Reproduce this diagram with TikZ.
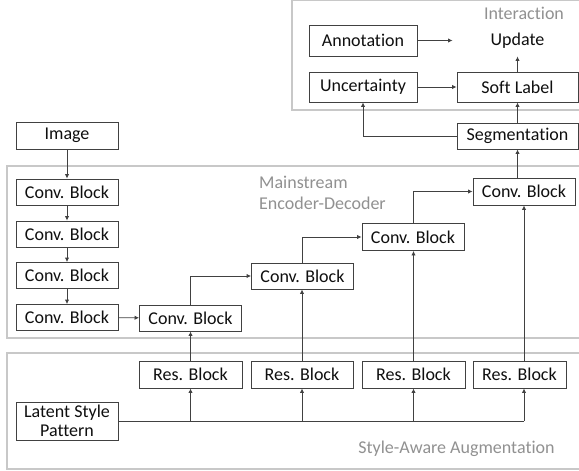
\documentclass[tikz,border=0pt]{standalone}
\usepackage{fontspec}
\setmainfont{Carlito}[Ligatures={NoCommon}]
\usetikzlibrary{arrows.meta,calc}
\definecolor{edgec}{RGB}{65,65,65}
\definecolor{grpc}{RGB}{200,200,200}
\definecolor{grptext}{RGB}{145,145,145}
\definecolor{txtc}{RGB}{15,15,15}
\begin{document}
\begin{tikzpicture}[x=1pt,y=-1pt,
  blk/.style={draw=edgec,line width=0.9pt,fill=white,inner sep=0pt,minimum height=26pt,minimum width=102pt,
    font=\fontsize{18}{21}\selectfont,text=txtc},
  grp/.style={draw=grpc,line width=1.1pt},
  grplabel/.style={font=\fontsize{18}{21}\selectfont,text=grptext,inner sep=0pt},
  conn/.style={draw=edgec,line width=0.9pt},
  arr/.style={conn,-{Latex[length=4.5pt,width=4.5pt]}}]
\useasboundingbox (0,0) rectangle (579,471);
\fill[white] (0,0) rectangle (579,471);
% groups
\draw[grp] (585,0.8) -- (292,0.8) -- (292,110) -- (585,110);
\draw[grp] (585,166) -- (7,166) -- (7,338) -- (585,338);
\draw[grp] (585,353) -- (7,353) -- (7,469) -- (585,469);
\node[grplabel] (lint) at (524,13) {Interaction};
\node[grplabel,align=left,anchor=west] (lmain) at (259,192.5) {Mainstream\\Encoder-Decoder};
\node[grplabel] (laug) at (456.5,449) {Style-Aware Augmentation};
% nodes
\node[blk,minimum height=27pt] (img) at (67,135.5) {Image};
\node[blk] (c1) at (67,192) {Conv. Block};
\node[blk] (c2) at (67,234) {Conv. Block};
\node[blk] (c3) at (67,275.5) {Conv. Block};
\node[blk] (c4) at (67,317.5) {Conv. Block};
\node[blk] (c5) at (190.5,318) {Conv. Block};
\node[blk] (c6) at (302.5,276) {Conv. Block};
\node[blk,minimum height=27pt] (c7) at (413,237) {Conv. Block};
\node[blk,minimum height=27pt] (c8) at (524,191.5) {Conv. Block};
\node[blk,minimum width=121pt] (seg) at (517.5,136) {Segmentation};
\node[blk,minimum width=121pt,minimum height=30pt] (soft) at (517.5,87) {Soft Label};
\node[blk,minimum width=108pt,minimum height=30pt] (unc) at (363,87) {Uncertainty};
\node[blk,minimum width=108pt,minimum height=31pt] (ann) at (363,40.5) {Annotation};
\node[blk,draw=none,fill=none,minimum width=121pt,minimum height=31pt] (upd) at (517.5,40.5) {Update};
\node[blk,minimum width=103pt,minimum height=27pt] (r1) at (190.5,374.5) {Res. Block};
\node[blk,minimum width=102pt,minimum height=27pt] (r2) at (302,374.5) {Res. Block};
\node[blk,minimum width=103pt,minimum height=27pt] (r3) at (413.5,374.5) {Res. Block};
\node[blk,minimum width=93pt,minimum height=27pt] (r4) at (519.5,374.5) {Res. Block};
\node[blk,minimum height=38pt,align=center] (lat) at (67,421) {Latent Style\\[-2pt]Pattern};
% connectors
\draw[arr] (img) -- (c1);
\draw[arr] (c1) -- (c2);
\draw[arr] (c2) -- (c3);
\draw[arr] (c3) -- (c4);
\draw[arr] (c4) -- (c5);
\draw[arr] (c5.north) |- (c6.west);
\draw[arr] (c6.north) |- (c7.west);
\draw[arr] (c7.north) |- (c8.west);
\draw[arr] (c8.north -| seg.south) -- (seg.south);
\draw[arr] (seg) -- (soft);
\draw[arr] (seg.west) -| (unc.south);
\draw[arr] (unc) -- (soft);
\draw[arr,shorten >=4pt] (ann) -- (upd.west);
\draw[arr] (soft) -- (upd);
% res to conv
\draw[arr] (r1.north -| c5.south) -- (c5.south);
\draw[arr] (r2.north) -- (r2.north |- c6.south);
\draw[arr] (r3.north) -- (r3.north |- c7.south);
\draw[arr] (r4.north -| c8.south) -- (c8.south);
% latent bus
\coordinate (busend) at (524,421);
\draw[conn] (lat.east) -- (busend);
\draw[arr] (lat.east -| r1.south) -- (r1.south);
\draw[arr] (lat.east -| r2.south) -- (r2.south);
\draw[arr] (lat.east -| r3.south) -- (r3.south);
\draw[arr] (busend) -- (busend |- r4.south);
\end{tikzpicture}
\end{document}
